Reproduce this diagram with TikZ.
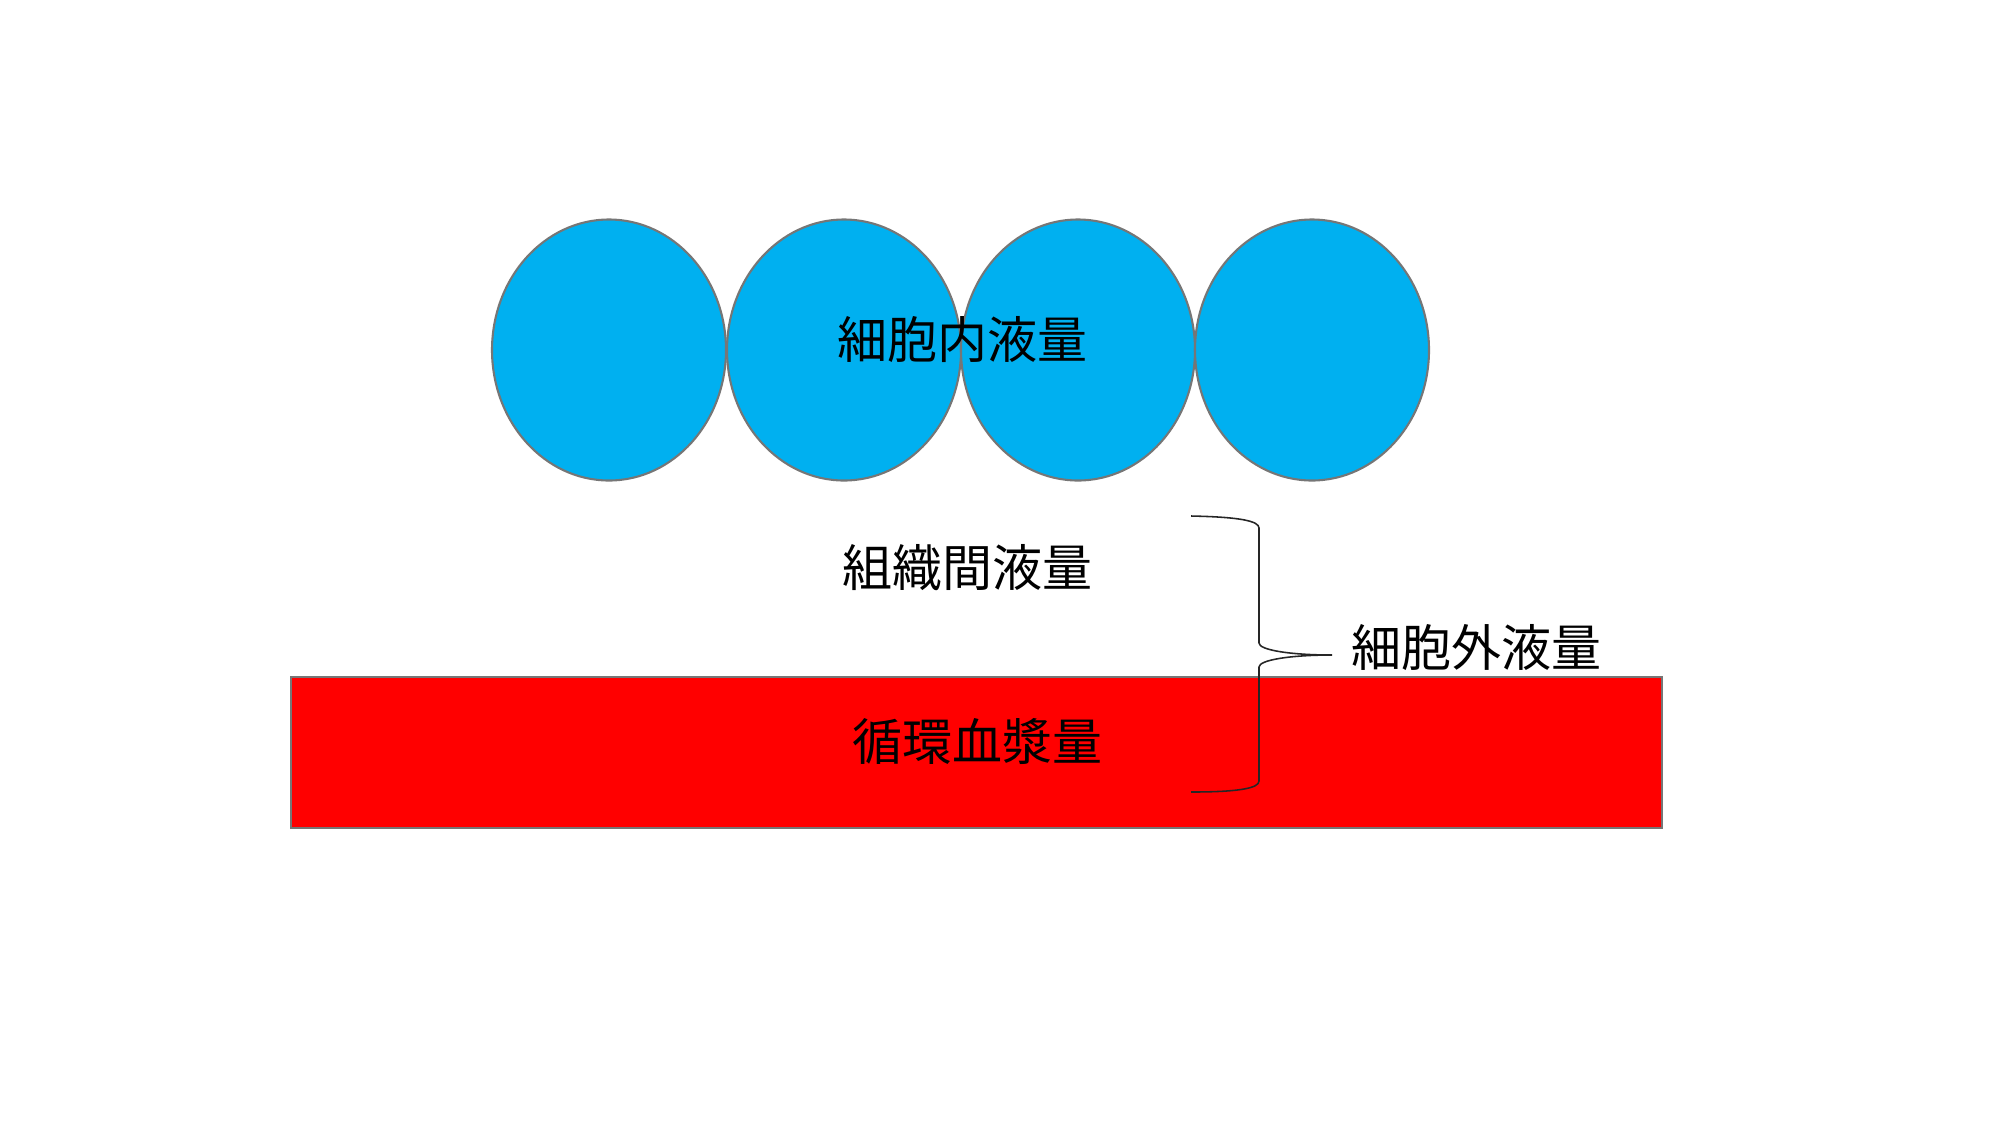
\documentclass[tikz,border=0pt]{standalone}
\usepackage{fontspec}
\usetikzlibrary{shapes.geometric}
\setmainfont{Noto Sans CJK JP}
\definecolor{cellblue}{HTML}{00B0F0}
\definecolor{edgegray}{HTML}{767676}
\begin{document}
\begin{tikzpicture}[x=0.48pt,y=-0.48pt,
  cell/.style={ellipse, draw=edgegray, line width=1pt, fill=cellblue, minimum width=234*0.48pt, minimum height=261*0.48pt, inner sep=0pt},
  label/.style={font=\fontsize{24pt}{28pt}\selectfont, inner sep=0pt, text=black},
  bracepath/.style={draw=black!85, line width=0.75pt}]
\useasboundingbox (0,0) rectangle (2000,1125);
\fill[white] (0,0) rectangle (2000,1125);
\node[cell] (c1) at (609,350) {};
\node[cell] (c2) at (844,350) {};
\node[cell] (c3) at (1078,350) {};
\node[cell] (c4) at (1312,350) {};
\node[label] (icf) at (962,340) {細胞内液量};
\node[label] (isf) at (967,568) {組織間液量};
\node[draw=edgegray, line width=1pt, fill=red, minimum width=1371*0.48pt, minimum height=151*0.48pt, inner sep=0pt] (plasma) at (976.5,752.5) {};
\node[label] (pl) at (977,741) {循環血漿量};
\node[label, anchor=west] (ecf) at (1351,648) {細胞外液量};
\coordinate (btop) at (1191,516);
\coordinate (bbot) at (1191,792);
\coordinate (btip) at (1332,655);
\path[bracepath] (btop) .. controls (1240,517) and (1259,521) .. (1259,528)
  -- (1259,643) .. controls (1259,650) and (1290,655) .. (btip)
  .. controls (1290,655) and (1259,660) .. (1259,667)
  -- (1259,781) .. controls (1259,788) and (1240,792) .. (bbot);
\end{tikzpicture}
\end{document}
